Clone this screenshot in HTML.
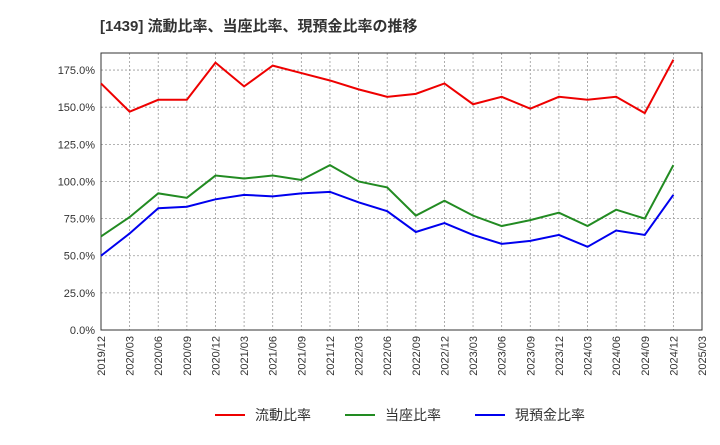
<!DOCTYPE html>
<html><head><meta charset="utf-8"><style>
body{margin:0;background:#fff;font-family:"Liberation Sans","Noto Sans CJK JP",sans-serif}
</style></head><body>
<svg width="720" height="440" xmlns="http://www.w3.org/2000/svg" font-family="Liberation Sans, Noto Sans CJK JP, sans-serif">
<text x="100" y="31" font-size="15" font-weight="bold" fill="#333">[1439]  流動比率、当座比率、現預金比率の推移</text>
<g id="grid"></g><g id="axes"></g><g id="series"></g>
<g font-size="14" fill="#333">
<line x1="215" y1="415" x2="245" y2="415" stroke="#e00" stroke-width="2"/><text x="255" y="420">流動比率</text>
<line x1="345" y1="415" x2="375" y2="415" stroke="#228b22" stroke-width="2"/><text x="385" y="420">当座比率</text>
<line x1="475" y1="415" x2="505" y2="415" stroke="#00e" stroke-width="2"/><text x="515" y="420">現預金比率</text>
</g>
</svg>
<script>
const xLabels=["2019/12","2020/03","2020/06","2020/09","2020/12","2021/03","2021/06","2021/09","2021/12","2022/03","2022/06","2022/09","2022/12","2023/03","2023/06","2023/09","2023/12","2024/03","2024/06","2024/09","2024/12","2025/03"];
const yTicks=[0,25,50,75,100,125,150,175];
const currentRatio=[166,147,155,155,180,164,178,173,168,162,157,159,166,152,157,149,157,155,157,146,182];
const quickRatio=[63,76,92,89,104,102,104,101,111,100,96,77,87,77,70,74,79,70,81,75,111];
const cashRatio=[50,65,82,83,88,91,90,92,93,86,80,66,72,64,58,60,64,56,67,64,91];
const L=101,R=702,T=53,B=330,yMax=186.5;
const xs=i=>L+i*(R-L)/(xLabels.length-1);
const ys=v=>B-v/yMax*(B-T);
const NS="http://www.w3.org/2000/svg";
function mk(p,tag,a){const e=document.createElementNS(NS,tag);for(const k in a)e.setAttribute(k,a[k]);p.appendChild(e);return e;}
const g=document.getElementById('grid'),ax=document.getElementById('axes'),s=document.getElementById('series');
xLabels.forEach((l,i)=>{const x=xs(i);
 const ln=mk(g,'line',{x1:x,y1:T,x2:x,y2:B,stroke:'#999','stroke-dasharray':'2,2','stroke-width':0.8});
 
 const t=mk(ax,'text',{x:0,y:0,'font-size':11,fill:'#333','text-anchor':'end',transform:`translate(${x+4},${B+6}) rotate(-90)`});
 t.textContent=l;});
yTicks.forEach(v=>{const y=ys(v);
 const ln=mk(g,'line',{x1:L,y1:y,x2:R,y2:y,stroke:'#999','stroke-dasharray':'2,2','stroke-width':0.8});
 
 const t=mk(ax,'text',{x:L-6,y:y+4,'font-size':11,fill:'#333','text-anchor':'end'});
 t.textContent=v.toFixed(1)+'%';});
const fr=mk(ax,'rect',{x:L,y:T,width:R-L,height:B-T,fill:'none',stroke:'#333','stroke-width':1});

[[currentRatio,'#e00','current-ratio-line'],[quickRatio,'#228b22','quick-ratio-line'],[cashRatio,'#00e','cash-ratio-line']].forEach(([d,c,n])=>{
 const p=mk(s,'polyline',{points:d.map((v,i)=>xs(i)+','+ys(v)).join(' '),fill:'none',stroke:c,'stroke-width':2});
 });
</script>
</body></html>
